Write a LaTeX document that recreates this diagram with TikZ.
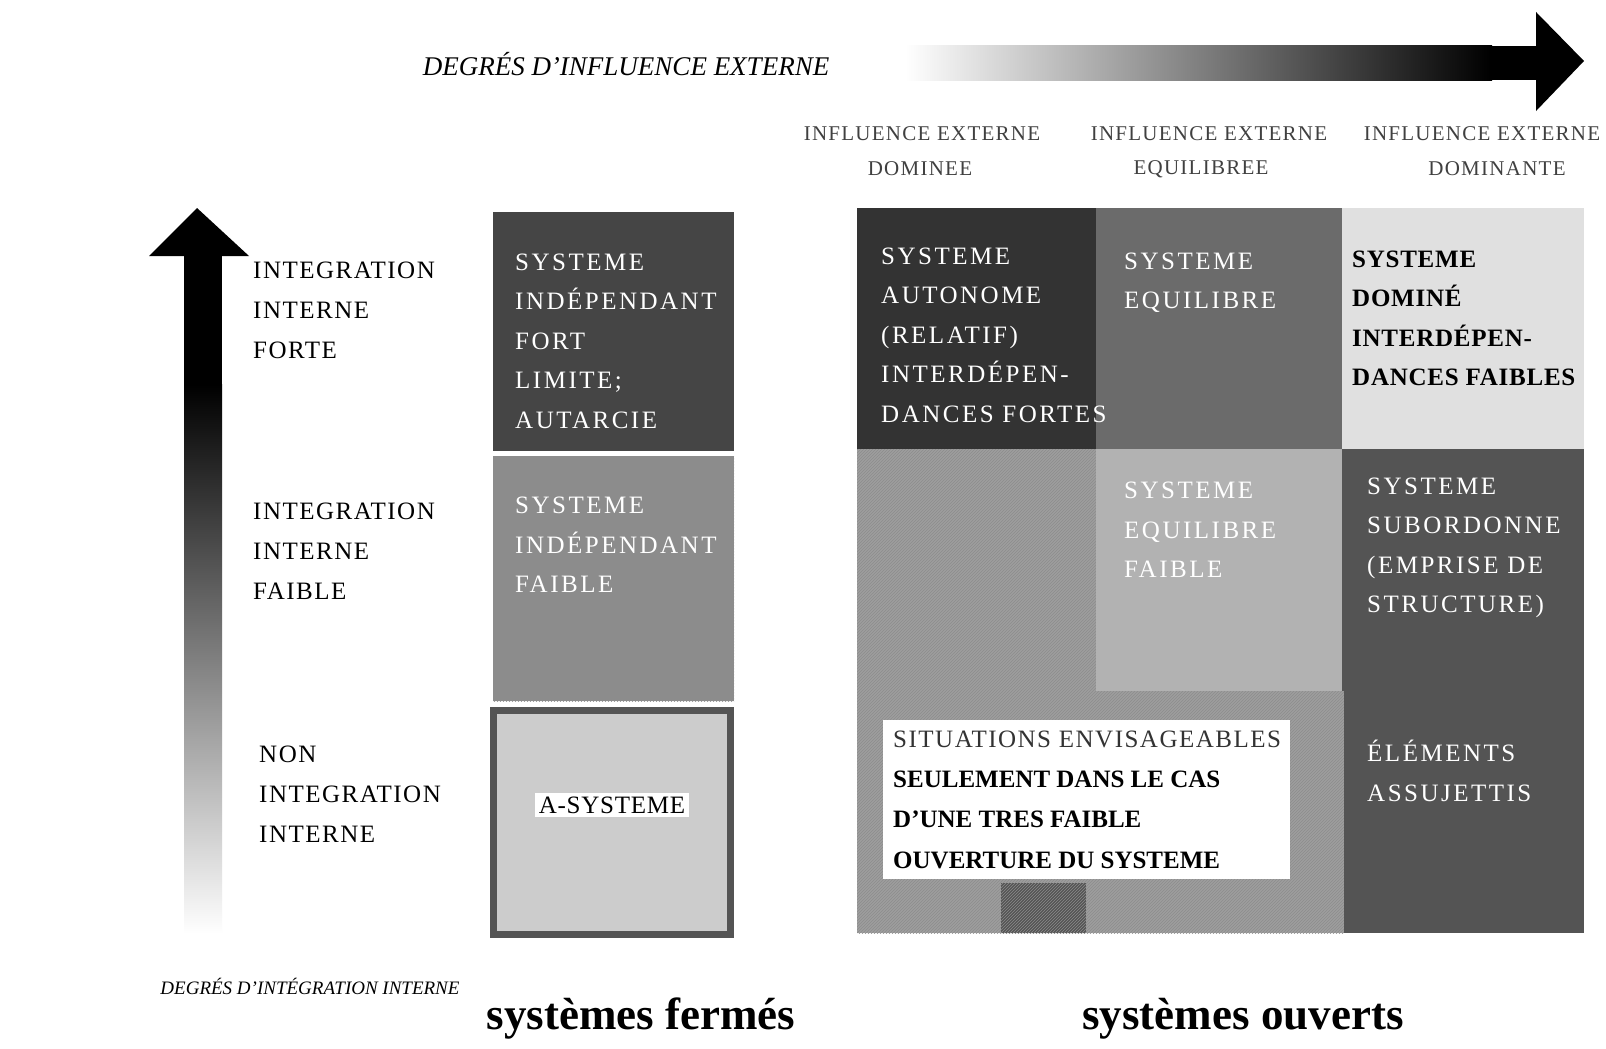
\documentclass[tikz,border=0pt]{standalone}
\usepackage{fontspec}
\setmainfont{Liberation Serif}
\newfontfamily\capsfont[LetterSpace=6]{Liberation Serif}
\newfontfamily\boxfont[LetterSpace=10]{Liberation Serif}
\newfontfamily\darkfont[LetterSpace=3]{Liberation Serif}
\usetikzlibrary{patterns}
\definecolor{tA}{gray}{0.20}
\definecolor{tB}{gray}{0.27}
\definecolor{tC}{gray}{0.33}
\definecolor{tD}{gray}{0.42}
\definecolor{tE}{gray}{0.55}
\definecolor{tF}{gray}{0.62}
\definecolor{tG}{gray}{0.70}
\definecolor{tH}{gray}{0.80}
\definecolor{tI}{gray}{0.88}
\tikzset{
  cell/.style={inner sep=0pt, outer sep=0pt, anchor=north west},
  hatch/.style={preaction={fill=#1}, pattern=north east lines, pattern color=black!45},
  wtxt/.style={text=white, align=left, anchor=west, inner sep=0pt,
    font=\boxfont\fontsize{25}{39.5}\selectfont},
  btxt/.style={text=black, align=left, anchor=west, inner sep=0pt,
    font=\darkfont\bfseries\fontsize{25}{39.5}\selectfont},
  lbl/.style={align=left, anchor=west, inner sep=0pt,
    font=\capsfont\fontsize{25}{40}\selectfont},
  hdr/.style={anchor=center, inner sep=0pt, text=black!75,
    font=\capsfont\fontsize{21}{25}\selectfont},
  ital/.style={anchor=center, inner sep=0pt, font=\itshape\fontsize{#1}{#1}\selectfont},
  big/.style={anchor=center, inner sep=0pt, font=\bfseries\fontsize{45}{45}\selectfont},
}
\begin{document}
\begin{tikzpicture}[x=1pt,y=-1pt]
\useasboundingbox (0,0) rectangle (1606,1049);
\fill[white] (0,0) rectangle (1606,1049);

% horizontal axis: external influence
\node[ital=27] (axisH) at (626,64) {DEGRÉS D'INFLUENCE EXTERNE};
\shade[left color=white, right color=black] (905,46) rectangle (1492,80);
\fill[black] (1490,46) rectangle (1537,80);
\fill[black] (1536,12) -- (1584,61) -- (1536,111) -- cycle;

% column headers
\node[hdr] (h1a) at (922,134) {INFLUENCE EXTERNE};
\node[hdr] (h1b) at (920,169) {DOMINEE};
\node[hdr] (h2a) at (1209,134) {INFLUENCE EXTERNE};
\node[hdr] (h2b) at (1201,169) {EQUILIBREE};
\node[hdr] (h3a) at (1482,134) {INFLUENCE EXTERNE};
\node[hdr] (h3b) at (1497,169) {DOMINANTE};

% vertical axis: internal integration
\fill[black] (149,256) -- (197,208) -- (249,256) -- cycle;
\fill[black] (184,255) rectangle (222,385);
\shade[top color=black, bottom color=white] (184,384) rectangle (222,934);
\node[ital=19] (axisV) at (310,986) {DEGRÉS D'INTÉGRATION INTERNE};

% row labels
\node[lbl] (r1) at (253,310) {INTEGRATION\\INTERNE\\FORTE};
\node[lbl] (r2) at (253,551) {INTEGRATION\\INTERNE\\FAIBLE};
\node[lbl] (r3) at (259,794) {NON\\INTEGRATION\\INTERNE};

% closed systems column
\node[cell, fill=tB, minimum width=241pt, minimum height=239pt] (c1) at (493,212) {};
\node[cell, hatch=tE, minimum width=241pt, minimum height=245pt] (c2) at (493,456) {};
\node[inner sep=0pt, outer sep=0pt, fill=tH, draw=tC, line width=7pt,
      minimum width=237pt, minimum height=224pt] (c3) at (612,822.5) {};
\node[wtxt] (c1t) at (515,341) {SYSTEME\\INDÉPENDANT\\FORT\\LIMITE;\\AUTARCIE};
\node[wtxt] (c2t) at (515,545) {SYSTEME\\INDÉPENDANT\\FAIBLE};
\node[fill=white, inner sep=4pt, font=\darkfont\fontsize{25}{25}\selectfont] (c3t) at (612,805) {A-SYSTEME};

% open systems grid
\node[cell, fill=tA, minimum width=239pt, minimum height=241pt] (o11) at (857,208) {};
\node[cell, fill=tD, minimum width=246pt, minimum height=241pt] (o12) at (1096,208) {};
\node[cell, fill=tI, minimum width=242pt, minimum height=241pt] (o13) at (1342,208) {};
\node[cell, hatch=tF, minimum width=239pt, minimum height=242pt] (o21) at (857,449) {};
\node[cell, fill=tG, minimum width=246pt, minimum height=242pt] (o22) at (1096,449) {};
\node[cell, fill=tC, minimum width=242pt, minimum height=242pt] (o23) at (1342,449) {};
\node[cell, hatch=tF, minimum width=487pt, minimum height=242pt] (o31) at (857,691) {};
\node[cell, fill=tC, minimum width=240pt, minimum height=242pt] (o33) at (1344,691) {};
\node[cell, hatch=tC, minimum width=85pt, minimum height=50pt] (patch) at (1001,883) {};
\node[cell, fill=white, minimum width=407pt, minimum height=159pt] (note) at (883,720) {};

\node[wtxt] (o11t) at (881,335)
  {SYSTEME\\AUTONOME\\(RELATIF)\\INTERDÉPEN-\\DANCES FORTES};
\node[wtxt] (o12t) at (1124,282.5) {SYSTEME\\EQUILIBRE};
\node[btxt] (o13t) at (1352,318.5) {SYSTEME\\DOMINÉ\\INTERDÉPEN-\\DANCES FAIBLES};
\node[wtxt] (o22t) at (1124,530) {SYSTEME\\EQUILIBRE\\FAIBLE};
\node[wtxt] (o23t) at (1367,548) {SYSTEME\\SUBORDONNE\\(EMPRISE DE\\STRUCTURE)};
\node[wtxt] (o33t) at (1367,771) {ÉLÉMENTS\\ASSUJETTIS};
\node[align=left, anchor=west, inner sep=0pt, font=\fontsize{25}{40.3}\selectfont] (notet) at (893,799.5)
  {\textcolor{black!80}{\capsfont SITUATIONS ENVISAGEABLES}\\
   \bfseries SEULEMENT DANS LE CAS\\
   \bfseries D'UNE TRES FAIBLE\\
   \bfseries OUVERTURE DU SYSTEME};

% bottom captions
\node[big] (closed) at (641,1019) {systèmes fermés};
\node[big] (open) at (1243,1019) {systèmes ouverts};
\end{tikzpicture}
\end{document}
